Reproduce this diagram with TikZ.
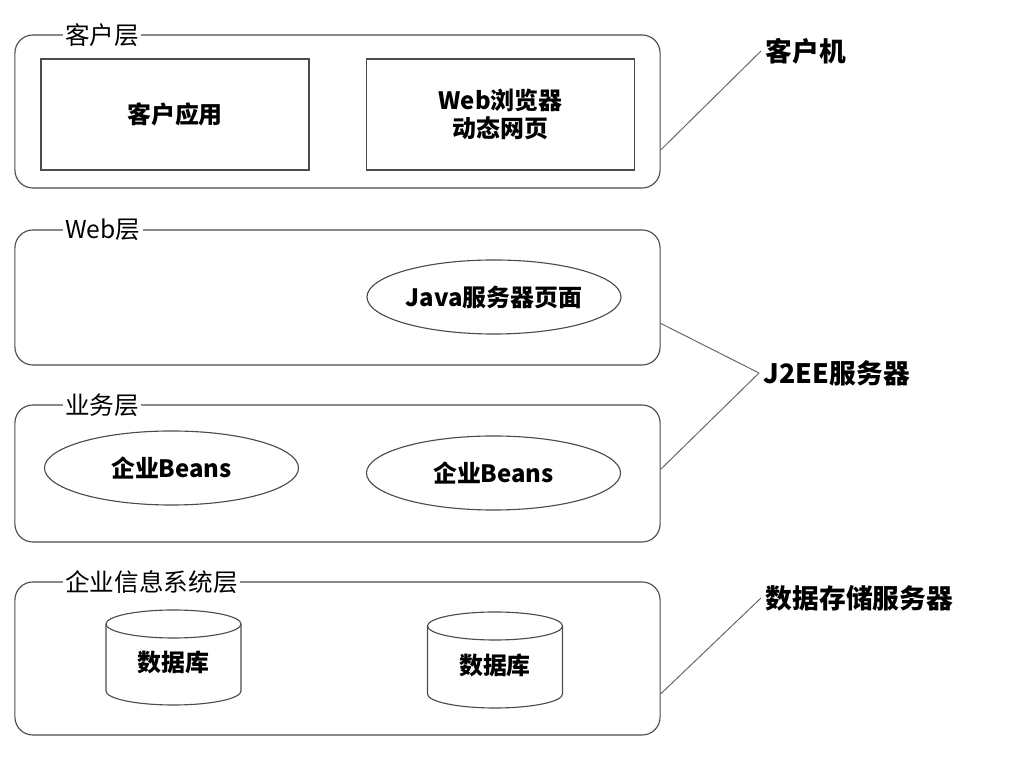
\documentclass[tikz,border=0pt]{standalone}
\usepackage{fontspec}
\setmainfont{Noto Sans CJK SC}
\usetikzlibrary{positioning,calc,shapes.geometric}

\begin{document}
\begin{tikzpicture}[x=0.025cm,y=0.025cm,
  layer/.style={draw=black!70,line width=0.8pt,rounded corners=0.45cm,
    minimum width=16.125cm,inner sep=0pt},
  tag/.style={fill=white,inner sep=1.5pt,anchor=west,font=\fontsize{17.5}{20}\selectfont},
  box/.style={draw=black!70,line width=0.8pt,minimum width=6.7cm,minimum height=2.775cm,
    align=center,font=\fontsize{17}{20}\selectfont\bfseries},
  oval/.style={ellipse,draw=black!70,line width=0.8pt,minimum width=6.35cm,
    minimum height=1.85cm,inner sep=0pt,font=\fontsize{17}{20}\selectfont\bfseries},
  cyl/.style={draw=black!70,line width=0.8pt},
  host/.style={anchor=west,font=\fontsize{19}{22}\selectfont\bfseries},
  link/.style={draw=black!60,line width=0.7pt}]
\useasboundingbox (0,0) rectangle (1031,761);
% the four layers
\node[layer,minimum height=3.825cm] (client) at (337.5,649.5) {};
\node[layer,minimum height=3.375cm] (web) at (337.5,463.5) {};
\node[layer,minimum height=3.425cm] (biz) at (337.5,287.5) {};
\node[layer,minimum height=3.825cm] (eis) at (337.5,102.5) {};
\node[tag] (clientT) at (63,726) {客户层};
\node[tag] (webT) at (63,531) {Web层};
\node[tag] (bizT) at (63,356) {业务层};
\node[tag] (eisT) at (63,179) {企业信息系统层};
% client layer
\node[box] (app) at (175,646.5) {客户应用};
\node[box] (browser) at (500.5,646.5) {Web浏览器\\动态网页};
% web and business layers
\node[oval] (jsp) at (494,464) {Java服务器页面};
\node[oval] (bean1) at (171.5,293) {企业Beans};
\node[oval] (bean2) at (493.5,288) {企业Beans};
% databases
\foreach \cx/\ct/\cb/\nm in {173.5/151/56/db1,495/149/53/db2} {
  \draw[cyl] (\cx-67.5,\ct-14) -- (\cx-67.5,\cb+14)
    arc[start angle=180,end angle=360,x radius=67.5,y radius=14] -- (\cx+67.5,\ct-14);
  \draw[cyl] (\cx,\ct-14) ellipse[x radius=67.5,y radius=14];
  \node[font=\fontsize{17}{20}\selectfont\bfseries] (\nm) at (\cx,\cb+43) {数据库};
}
% machines on the right
\node[host] (pc) at (761,710) {客户机};
\node[host] (j2ee) at (759,388) {J2EE服务器};
\node[host] (store) at (761,163) {数据存储服务器};
\coordinate (clientE) at ($(client.north east)!0.75!(client.south east)$);
\coordinate (webE) at ($(web.north east)!0.69!(web.south east)$);
\coordinate (bizE) at ($(biz.north east)!0.47!(biz.south east)$);
\coordinate (eisE) at ($(eis.north east)!0.73!(eis.south east)$);
\draw[link] (pc.west) -- (clientE);
\draw[link] (j2ee.west) -- (webE);
\draw[link] (j2ee.west) -- (bizE);
\draw[link] (store.west) -- (eisE);
\end{tikzpicture}
\end{document}
